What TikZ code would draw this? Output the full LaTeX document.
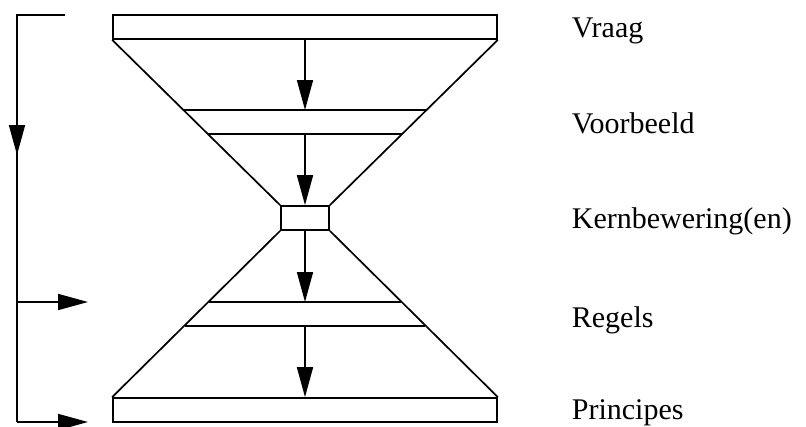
\documentclass[tikz,border=0pt]{standalone}
\usepackage{fontspec}
\setmainfont{Liberation Serif}
\usetikzlibrary{arrows.meta}
\begin{document}
\begin{tikzpicture}[x=1pt,y=-1pt,line width=1.7pt,
  bar/.style={draw,rectangle,inner sep=0pt,minimum width=384pt,minimum height=24pt},
  neckbox/.style={draw,rectangle,inner sep=0pt,minimum width=48pt,minimum height=24pt},
  flow/.style={-{Triangle[length=30pt,width=16pt]}},
  lbl/.style={anchor=base west,inner sep=0pt,font=\fontsize{30}{33}\selectfont}]
\useasboundingbox (0,0) rectangle (806,426);

% the hourglass: wide bars at top and bottom, narrow neck in the middle
\node[bar] (top) at (305,27) {};
\node[neckbox] (neck) at (305,218) {};
\node[bar] (bot) at (305,410) {};

\draw (top.south west) -- (neck.north west);
\draw (top.south east) -- (neck.north east);
\draw (neck.south west) -- (bot.north west);
\draw (neck.south east) -- (bot.north east);

% horizontal bands across the two cones
\coordinate (a1l) at (184,110); \coordinate (a1r) at (426,110);
\coordinate (a2l) at (208,134); \coordinate (a2r) at (402,134);
\coordinate (c1l) at (209,302); \coordinate (c1r) at (401,302);
\coordinate (c2l) at (185,326); \coordinate (c2r) at (425,326);
\coordinate (a1) at (305,110); \coordinate (a2) at (305,134);
\coordinate (c1) at (305,302); \coordinate (c2) at (305,326);
\draw (a1l) -- (a1r);
\draw (a2l) -- (a2r);
\draw (c1l) -- (c1r);
\draw (c2l) -- (c2r);

% downward flow through the centre
\draw[flow] (top.south) -- (a1);
\draw[flow] (a2) -- (neck.north);
\draw[flow] (neck.south) -- (c1);
\draw[flow] (c2) -- (bot.north);

% bracket on the left
\coordinate (br0) at (65,15);
\coordinate (br1) at (17,15);
\coordinate (br2) at (17,422);
\coordinate (brm) at (17,155);
\coordinate (brr) at (17,302);
\coordinate (tr) at (88,302);
\coordinate (tb) at (88,422);
\draw (br0) -- (br1) -- (br2);
\draw[flow] (br1) -- (brm);
\draw[flow] (brr) -- (tr);
\draw[flow] (br2) -- (tb);

% level names
\node[lbl] (l1) at (571,37) {Vraag};
\node[lbl] (l2) at (571,133) {Voorbeeld};
\node[lbl] (l3) at (571,228) {Kernbewering(en)};
\node[lbl] (l4) at (571,327) {Regels};
\node[lbl] (l5) at (571,419) {Principes};
\end{tikzpicture}
\end{document}
